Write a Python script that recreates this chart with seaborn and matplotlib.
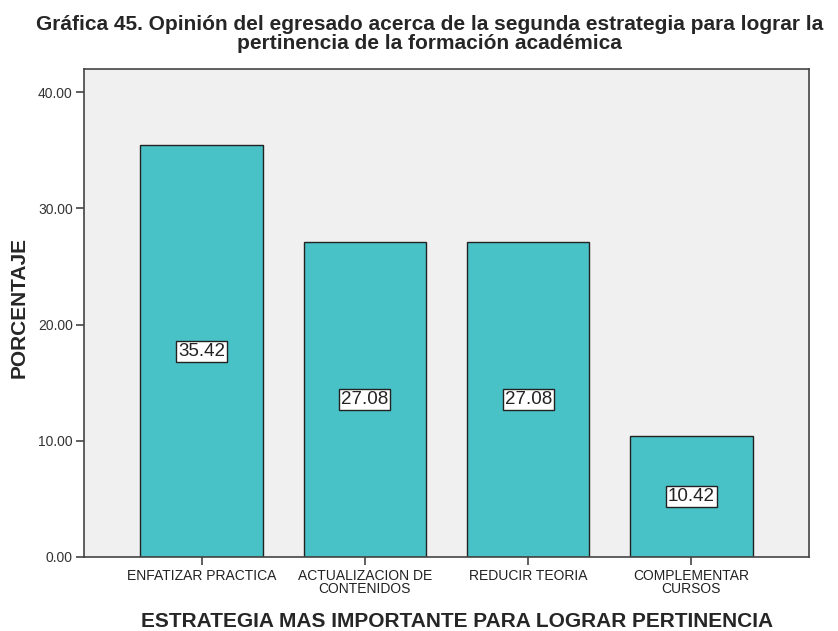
import matplotlib
matplotlib.use("Agg")
import matplotlib.pyplot as plt
import seaborn as sns
import pandas as pd

categorias = ["ENFATIZAR PRACTICA", "ACTUALIZACION DE\nCONTENIDOS", "REDUCIR TEORIA", "COMPLEMENTAR\nCURSOS"]
porcentajes = [35.42, 27.08, 27.08, 10.42]
ticks_y = [0, 10, 20, 30, 40]

df = pd.DataFrame({"estrategia": categorias, "porcentaje": porcentajes})

sns.set_theme(style="white")
plt.rcParams["font.family"] = ["Liberation Sans", "DejaVu Sans"]

fig = plt.figure(figsize=(8.38, 6.31), dpi=100)
ax = fig.add_axes([0.1002, 0.1173, 0.8652, 0.7734])
ax.set_facecolor("#F0F0F0")

sns.barplot(data=df, x="estrategia", y="porcentaje", color="#48C2C6", saturation=1,
            width=0.75, edgecolor="#222222", linewidth=1.0, ax=ax)

ax.set_xlim(-0.72, 3.72)
ax.set_ylim(0, 42)
ax.set_yticks(ticks_y)
ax.set_yticklabels([f"{t:.2f}" for t in ticks_y], fontsize=10, color="#333333")
ax.tick_params(axis="y", length=6, width=1.2, color="#444444", left=True, pad=2)
ax.tick_params(axis="x", length=6, width=1.2, color="#444444", bottom=True, labelsize=10,
               labelcolor="#222222", pad=3)
for lbl in ax.get_xticklabels():
    lbl.set_linespacing(0.85)

for s in ax.spines.values():
    s.set_color("#444444")
    s.set_linewidth(1.2)

for i, v in enumerate(porcentajes):
    ax.text(i, v / 2, f"{v:.2f}", ha="center", va="center", fontsize=13.5, color="#222222",
            bbox=dict(boxstyle="square,pad=0.1", facecolor="white", edgecolor="#222222", linewidth=1.0))

ax.set_ylabel("PORCENTAJE", fontsize=15, fontweight="bold", va="center")
ax.yaxis.set_label_coords(-0.0897, 0.511)
ax.set_xlabel("ESTRATEGIA MAS IMPORTANTE PARA LOGRAR PERTINENCIA", fontsize=15,
              fontweight="bold", va="center")
ax.xaxis.set_label_coords(0.515, -0.133)

fig.text(0.513, 0.977,
         "Gráfica 45. Opinión del egresado acerca de la segunda estrategia para lograr la\n"
         "pertinencia de la formación académica",
         ha="center", va="top", fontsize=15, fontweight="bold", linespacing=1.0)

fig.savefig("out.png", dpi=100)
